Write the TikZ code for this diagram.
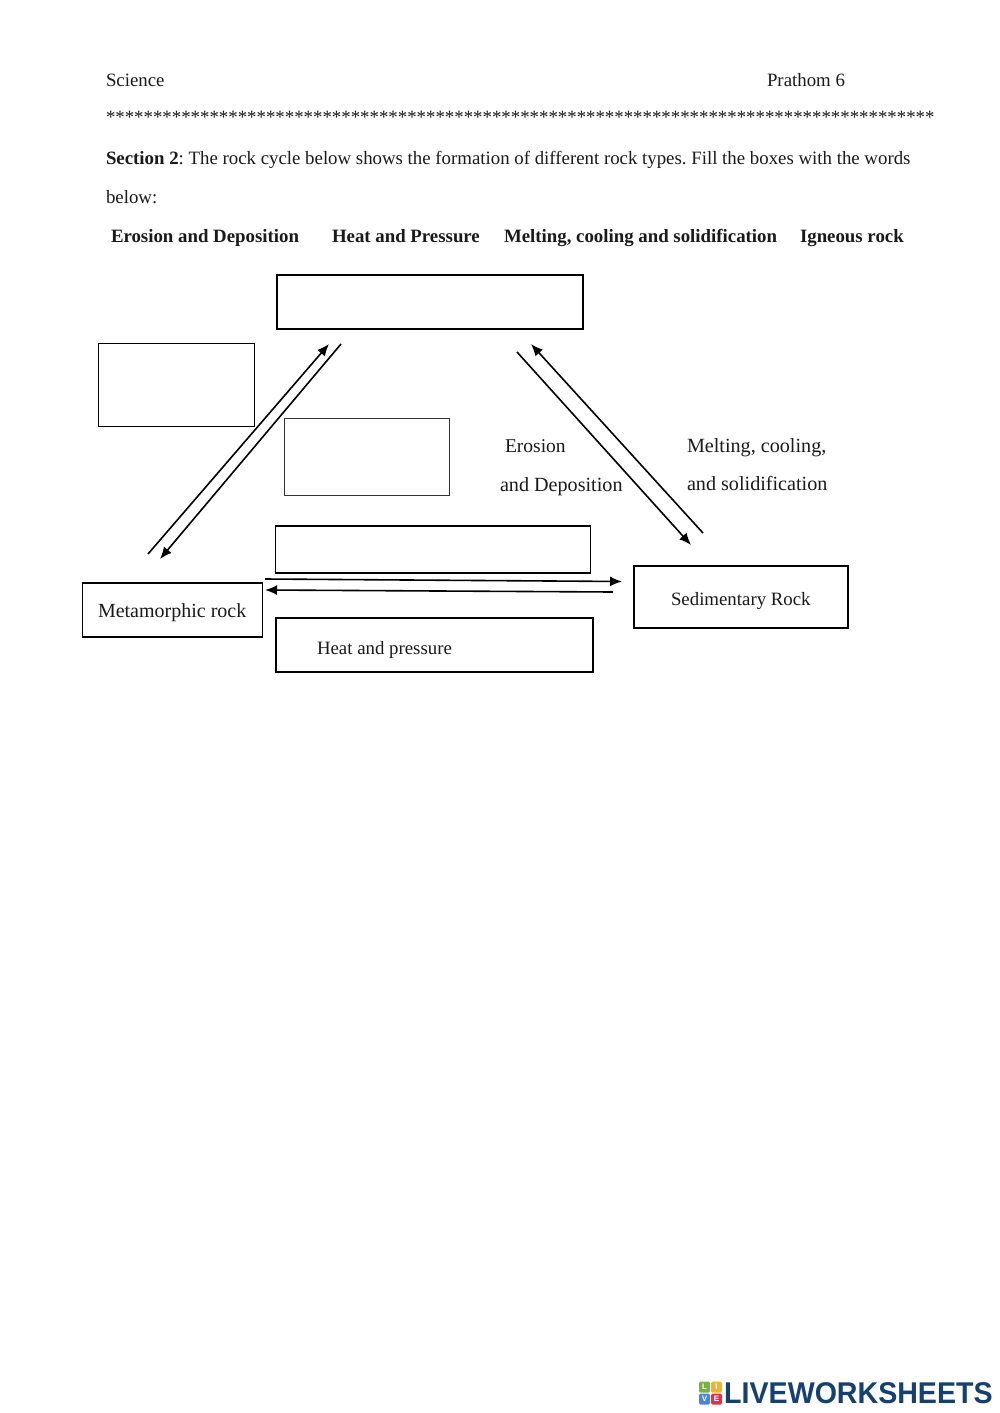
\documentclass[tikz,border=0pt]{standalone}
\usepackage{graphicx}
\usepackage{fontspec}
\setmainfont{Liberation Serif}
\newfontfamily\logofont{Liberation Sans}
\usetikzlibrary{arrows.meta}
\frenchspacing
\definecolor{ink}{HTML}{1A1A1A}
\definecolor{logoblue}{HTML}{15406F}
\definecolor{tileg}{HTML}{7DB043}
\definecolor{tiley}{HTML}{F0B429}
\definecolor{tileb}{HTML}{4A86D8}
\definecolor{tiler}{HTML}{E0304A}
\tikzset{
  x=1pt,y=-1pt,
  txt/.style={anchor=base west,inner sep=0,outer sep=0,text=ink,font=\fontsize{18.83}{23}\selectfont},
  lbl/.style={txt,font=\fontsize{20.15}{24}\selectfont},
  box/.style={draw=black,line width=1.5pt,fill=none},
  heavybox/.style={draw=black,line width=1.9pt,fill=none},
  thinbox/.style={draw=black!80,line width=1pt,fill=none},
  arr/.style={draw=black,line width=1.6pt,-{Latex[length=12pt,width=10pt]}},
  tile/.style={inner sep=0,outer sep=0,minimum size=11pt,rounded corners=1.5pt,text=white,font=\logofont\bfseries\fontsize{8}{8}\selectfont},
}
\begin{document}
\begin{tikzpicture}
\useasboundingbox[fill=white] (0,0) rectangle (1000,1413);
% header
\node[txt] (science) at (106,86) {Science};
\node[txt] (prathom) at (767,86) {Prathom 6};
\node[txt] (stars) at (106,123) {****************************************************************************************};
\node[txt] (sec) at (106,164) {\textbf{Section 2}: The rock cycle below shows the formation of different rock types. Fill the boxes with the words};
\node[txt] (below) at (106,203) {below:};
\node[txt] (w1) at (111,242) {\textbf{Erosion and Deposition}};
\node[txt] (w2) at (332,242) {\textbf{Heat and Pressure}};
\node[txt] (w3) at (504,242) {\textbf{Melting, cooling and solidification}};
\node[txt] (w4) at (800,242) {\textbf{Igneous rock}};
% boxes
\node[box,minimum width=306pt,minimum height=54pt,inner sep=0] (top) at (430,302) {};
\node[heavybox,minimum width=156pt,minimum height=83pt,inner sep=0] (left) at (176.5,385) {};
\node[thinbox,minimum width=165pt,minimum height=77pt,inner sep=0] (mid) at (367,456.5) {};
\node[box,minimum width=315pt,minimum height=47pt,inner sep=0] (up) at (433,549.5) {};
\node[heavybox,minimum width=180pt,minimum height=54pt,inner sep=0] (meta) at (172.5,610) {};
\node[box,minimum width=317pt,minimum height=54pt,inner sep=0] (low) at (434.5,645) {};
\node[box,minimum width=214pt,minimum height=62pt,inner sep=0] (sed) at (741,597) {};
% box labels
\node[lbl,font=\fontsize{20}{24}\selectfont] (metat) at (98,617) {Metamorphic rock};
\node[txt] (sedt) at (671,605) {Sedimentary Rock};
\node[txt] (heatt) at (317,654) {Heat and pressure};
\node[lbl,font=\fontsize{19.5}{24}\selectfont] (e1) at (505,452) {Erosion};
\node[lbl] (e2) at (500,491) {and Deposition};
\node[lbl] (m1) at (687,452) {Melting, cooling,};
\node[lbl] (m2) at (687,490) {and solidification};
% connector ends
\coordinate (a1s) at (148,554); \coordinate (a1e) at (329,344);
\coordinate (a2s) at (341,344); \coordinate (a2e) at (160,559);
\coordinate (a3s) at (517,352); \coordinate (a3e) at (691,545);
\coordinate (a4s) at (703,533); \coordinate (a4e) at (531,344);
\coordinate (a5s) at (265,579); \coordinate (a5e) at (622,581.5);
\coordinate (a6s) at (613,592); \coordinate (a6e) at (265,590);
\draw[arr] (a1s) -- (a1e);
\draw[arr] (a2s) -- (a2e);
\draw[arr] (a3s) -- (a3e);
\draw[arr] (a4s) -- (a4e);
\draw[arr] (a5s) -- (a5e);
\draw[arr] (a6s) -- (a6e);
% logo
\node[tile,fill=tileg] (tl) at (704.5,1387) {L};
\node[tile,fill=tiley] (ti) at (716.5,1387) {I};
\node[tile,fill=tileb] (tv) at (704.5,1399) {V};
\node[tile,fill=tiler] (te) at (716.5,1399) {E};
\node[anchor=base west,inner sep=0,text=logoblue,font=\logofont\bfseries\fontsize{30}{30}\selectfont] (logo) at (724,1403.5) {\scalebox{0.953}[1]{LIVEWORKSHEETS}};
\end{tikzpicture}
\end{document}
